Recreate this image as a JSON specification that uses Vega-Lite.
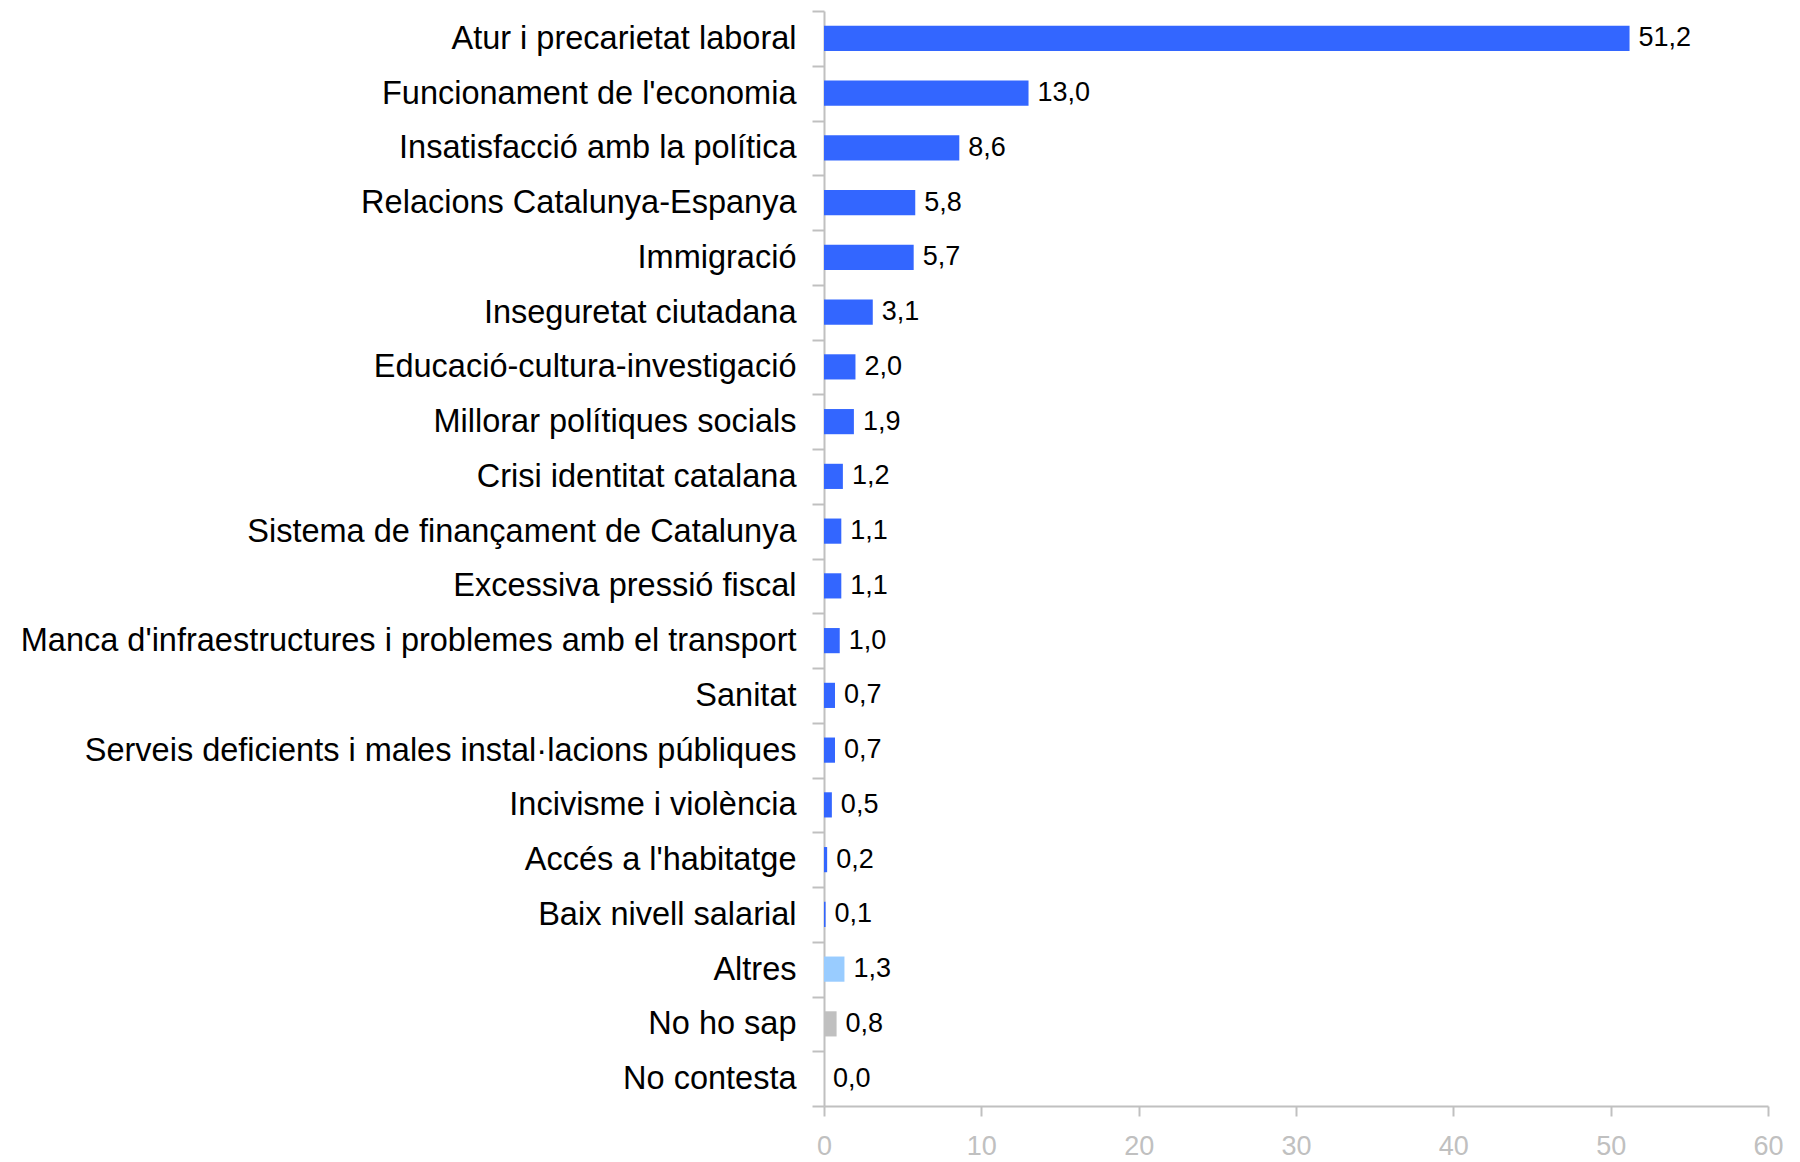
{
  "$schema": "https://vega.github.io/schema/vega-lite/v6.json",
  "autosize": "none",
  "width": 944,
  "height": 1095,
  "padding": {"left": 824, "top": 11, "right": 32, "bottom": 56},
  "background": "white",
  "config": {
    "view": {"stroke": null},
    "locale": {"number": {"decimal": ",", "thousands": ".", "grouping": [3], "currency": ["", " €"]}},
    "font": "Liberation Sans"
  },
  "data": {"values": [
    {"tema": "Atur i precarietat laboral", "valor": 51.2, "grup": "tema"},
    {"tema": "Funcionament de l'economia", "valor": 13.0, "grup": "tema"},
    {"tema": "Insatisfacció amb la política", "valor": 8.6, "grup": "tema"},
    {"tema": "Relacions Catalunya-Espanya", "valor": 5.8, "grup": "tema"},
    {"tema": "Immigració", "valor": 5.7, "grup": "tema"},
    {"tema": "Inseguretat ciutadana", "valor": 3.1, "grup": "tema"},
    {"tema": "Educació-cultura-investigació", "valor": 2.0, "grup": "tema"},
    {"tema": "Millorar polítiques socials", "valor": 1.9, "grup": "tema"},
    {"tema": "Crisi identitat catalana", "valor": 1.2, "grup": "tema"},
    {"tema": "Sistema de finançament de Catalunya", "valor": 1.1, "grup": "tema"},
    {"tema": "Excessiva pressió fiscal", "valor": 1.1, "grup": "tema"},
    {"tema": "Manca d'infraestructures i problemes amb el transport", "valor": 1.0, "grup": "tema"},
    {"tema": "Sanitat", "valor": 0.7, "grup": "tema"},
    {"tema": "Serveis deficients i males instal·lacions públiques", "valor": 0.7, "grup": "tema"},
    {"tema": "Incivisme i violència", "valor": 0.5, "grup": "tema"},
    {"tema": "Accés a l'habitatge", "valor": 0.2, "grup": "tema"},
    {"tema": "Baix nivell salarial", "valor": 0.1, "grup": "tema"},
    {"tema": "Altres", "valor": 1.3, "grup": "altres"},
    {"tema": "No ho sap", "valor": 0.8, "grup": "nsnc"},
    {"tema": "No contesta", "valor": 0.0, "grup": "nsnc"}
  ]},
  "encoding": {
    "y": {
      "field": "tema", "type": "nominal", "sort": null, "title": null,
      "scale": {"paddingInner": 0, "paddingOuter": 0},
      "axis": {
        "domainColor": "#c0c0c0", "domainWidth": 2,
        "tickColor": "#c0c0c0", "tickWidth": 2, "tickSize": 12, "tickBand": "extent",
        "labelFontSize": 32.5, "labelColor": "#000000", "labelPadding": 16, "labelLimit": 900
      }
    },
    "x": {
      "field": "valor", "type": "quantitative", "title": null,
      "scale": {"domain": [0, 60], "nice": false},
      "axis": {
        "values": [0, 10, 20, 30, 40, 50, 60], "grid": false, "format": "d",
        "domainColor": "#c0c0c0", "domainWidth": 2,
        "tickColor": "#c0c0c0", "tickWidth": 2, "tickSize": 10,
        "labelFontSize": 27, "labelColor": "#c0c0c0", "labelPadding": 17, "labelFlush": false
      }
    }
  },
  "layer": [
    {
      "mark": {"type": "bar", "height": {"band": 0.46}},
      "encoding": {
        "color": {
          "field": "grup", "type": "nominal", "legend": null,
          "scale": {"domain": ["tema", "altres", "nsnc"], "range": ["#3366ff", "#99ccff", "#c0c0c0"]}
        }
      }
    },
    {
      "mark": {"type": "text", "align": "left", "baseline": "middle", "dx": 9, "fontSize": 27, "color": "#000000"},
      "encoding": {
        "text": {"field": "valor", "type": "quantitative", "format": ".1f"}
      }
    }
  ]
}
